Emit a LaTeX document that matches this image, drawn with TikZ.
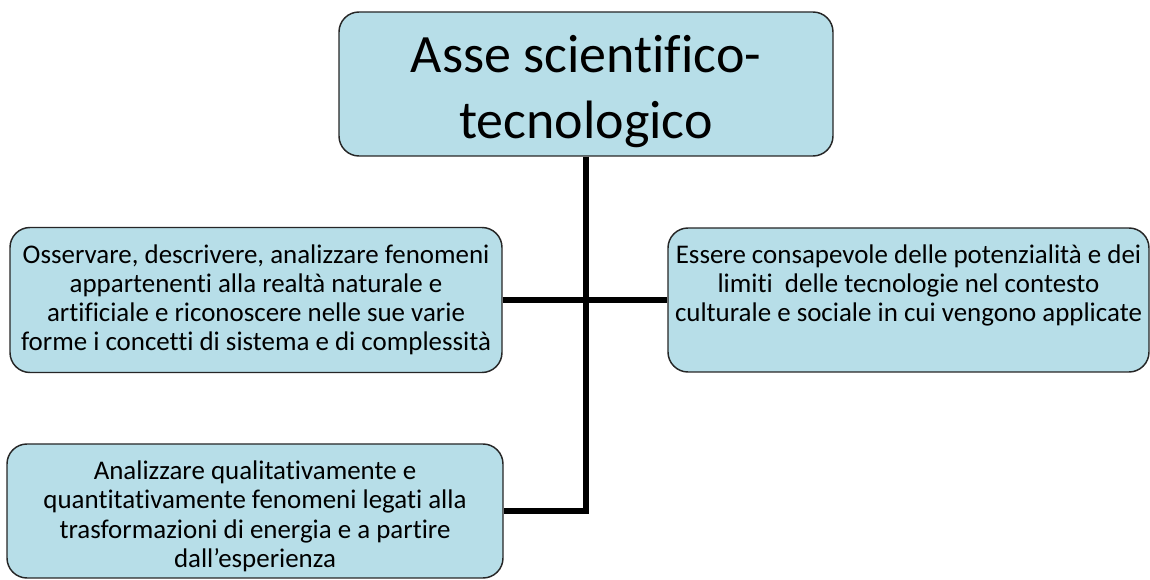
\documentclass[tikz,border=0pt]{standalone}
\usepackage{fontspec}
\setmainfont{Carlito}[Ligatures=NoCommon]
\usepackage{xcolor}
\usetikzlibrary{calc}
\definecolor{boxfill}{HTML}{B7DEE8}
\tikzset{
	goal/.style={
			draw=black!85, line width=1.1pt, fill=boxfill, rounded corners=15pt,
			align=center, inner sep=0pt, font=\fontsize{20.2}{21.9}\selectfont
		},
	link/.style={draw=black, line width=4pt}
}

\begin{document}
\begin{tikzpicture}[x=0.75pt, y=-0.75pt]
	\useasboundingbox (0,0) rectangle (1150,580);

	\node[goal, minimum width=494*0.75pt, minimum height=144*0.75pt, text height=88pt, font=\fontsize{40.5}{49.5}\selectfont] (asse) at (586,84) {Asse scientifico-\\tecnologico};
	\node[goal, minimum width=492*0.75pt, minimum height=145*0.75pt] (osservare) at (256,300) {Osservare, descrivere, analizzare fenomeni\\appartenenti alla realtà naturale e\\artificiale e riconoscere nelle sue varie\\forme i concetti di sistema e di complessità};
	\node[goal, minimum width=481*0.75pt, minimum height=144*0.75pt] (essere) at (908.5,300) {Essere consapevole delle potenzialità e dei\\limiti\ \ delle tecnologie nel contesto\\culturale e sociale in cui vengono applicate\\\vphantom{p}};
	\node[goal, minimum width=496*0.75pt, minimum height=134*0.75pt, text height=87.6pt] (analizzare) at (255,511) {Analizzare qualitativamente e\\quantitativamente fenomeni legati alla\\trasformazioni di energia e a partire\\dall’esperienza};

	\draw[link] (asse.south) -- (asse.south |- analizzare.east) -- (analizzare.east);
	\draw[link] (osservare.east) -- (osservare.east -| essere.west);
\end{tikzpicture}
\end{document}
